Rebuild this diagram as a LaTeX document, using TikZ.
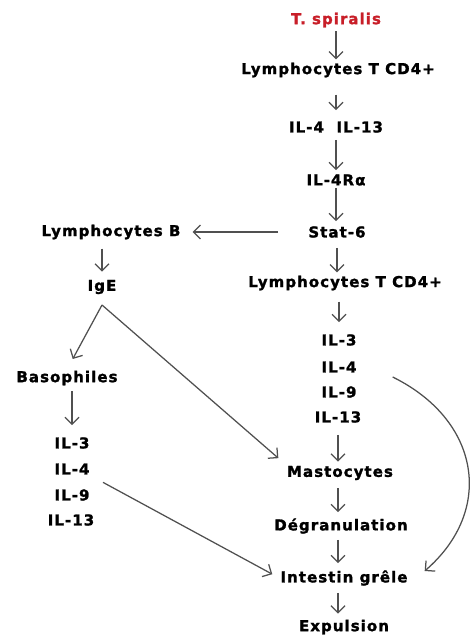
\documentclass[tikz,border=0pt]{standalone}
\usepackage{fontspec}
\usepackage{xcolor}
\usepackage{tikz}
\usetikzlibrary{arrows.meta}
\newfontfamily\flowfont[LetterSpace=7,BoldFeatures={FakeBold=1.5}]{DejaVu Sans}
\definecolor{spiralred}{RGB}{200,30,40}
\definecolor{arrowgray}{RGB}{80,80,80}

\begin{document}
\begin{tikzpicture}[x=1pt,y=-1pt,
  lbl/.style={font=\flowfont\bfseries\fontsize{15}{17}\selectfont,inner sep=1pt},
  arr/.style={-{Straight Barb[length=7pt,width=14pt]},draw=arrowgray,line width=1.25pt}]
\useasboundingbox[fill=white] (0,0) rectangle (470,637);

% colonne centrale
\node[lbl,text=spiralred] (spir) at (336,20) {T. spiralis};
\node[lbl] (lymT) at (338,70) {Lymphocytes T CD4+};
\node[lbl] (il413) at (336,127) {IL-4\ \ IL-13};
\node[lbl] (il4r) at (336,180) {IL-4Rα};
\node[lbl] (stat) at (337,232) {Stat-6};
\node[lbl] (lymT2) at (345,283) {Lymphocytes T CD4+};
\node[lbl] (il3) at (339,340) {IL-3};
\node[lbl] (il4) at (339,367) {IL-4};
\node[lbl] (il9) at (339,392) {IL-9};
\node[lbl] (il13) at (338,417) {IL-13};
\node[lbl] (mast) at (340,473) {Mastocytes};
\node[lbl] (degr) at (341,526) {Dégranulation};
\node[lbl] (intes) at (344,578) {Intestin grêle};
\node[lbl] (expu) at (344,627) {Expulsion};

% colonne gauche
\node[lbl] (lymB) at (111,232) {Lymphocytes B};
\node[lbl] (ige) at (102,287) {IgE};
\coordinate (fork) at (102,305);
\node[lbl] (baso) at (67,378) {Basophiles};
\node[lbl] (bil3) at (72,443) {IL-3};
\node[lbl] (bil4) at (72,469) {IL-4};
\node[lbl] (bil9) at (72,495) {IL-9};
\node[lbl] (bil13) at (71,520) {IL-13};

\draw[arr,shorten <=3pt,shorten >=2pt] (spir.south) -- (spir.south |- lymT.north);
\draw[arr,shorten <=16pt,shorten >=10pt] (lymT.south -| il413) -- (il413.north);
\draw[arr,shorten <=6pt,shorten >=3pt] (il413) -- (il4r);
\draw[arr,shorten <=1pt,shorten >=4pt] (il4r.south) -- (il4r.south |- stat.north);
\draw[arr,shorten <=9pt,shorten >=2pt] (stat.south) -- (stat.south |- lymT2.north);
\draw[arr,shorten <=10pt,shorten >=11pt] (lymT2.south -| il3) -- (il3.north);
\draw[arr,shorten <=11pt,shorten >=3pt] (il13.south) -- (il13.south |- mast.north);
\draw[arr,shorten <=7pt,shorten >=5pt] (mast.south -| il13) -- (il13 |- degr.north);
\draw[arr,shorten <=5pt,shorten >=6pt] (degr.south -| il13) -- (il13 |- intes.north);
\draw[arr,shorten <=6pt,shorten >=5pt] (intes.south -| il13) -- (il13 |- expu.north);

\draw[arr,shorten <=29pt,shorten >=11pt] (stat.west) -- (lymB.east);
\draw[arr,shorten <=8pt,shorten >=7pt] (lymB.south -| ige) -- (ige.north);
\draw[arr,shorten >=12pt] (fork) -- (baso.north);
\draw[arr,shorten >=10pt] (fork) -- (mast.north west);
\draw[arr,shorten <=5pt,shorten >=11pt] (baso.south -| bil3) -- (bil3.north);
\draw[arr,shorten <=14pt,shorten >=8pt] (bil4.south east) -- (intes.west);
\draw[arr] ([shift={(35,10)}]il4.east) .. controls (480,420) and (495,510) .. ([shift={(16,-7)}]intes.east);
\end{tikzpicture}
\end{document}
